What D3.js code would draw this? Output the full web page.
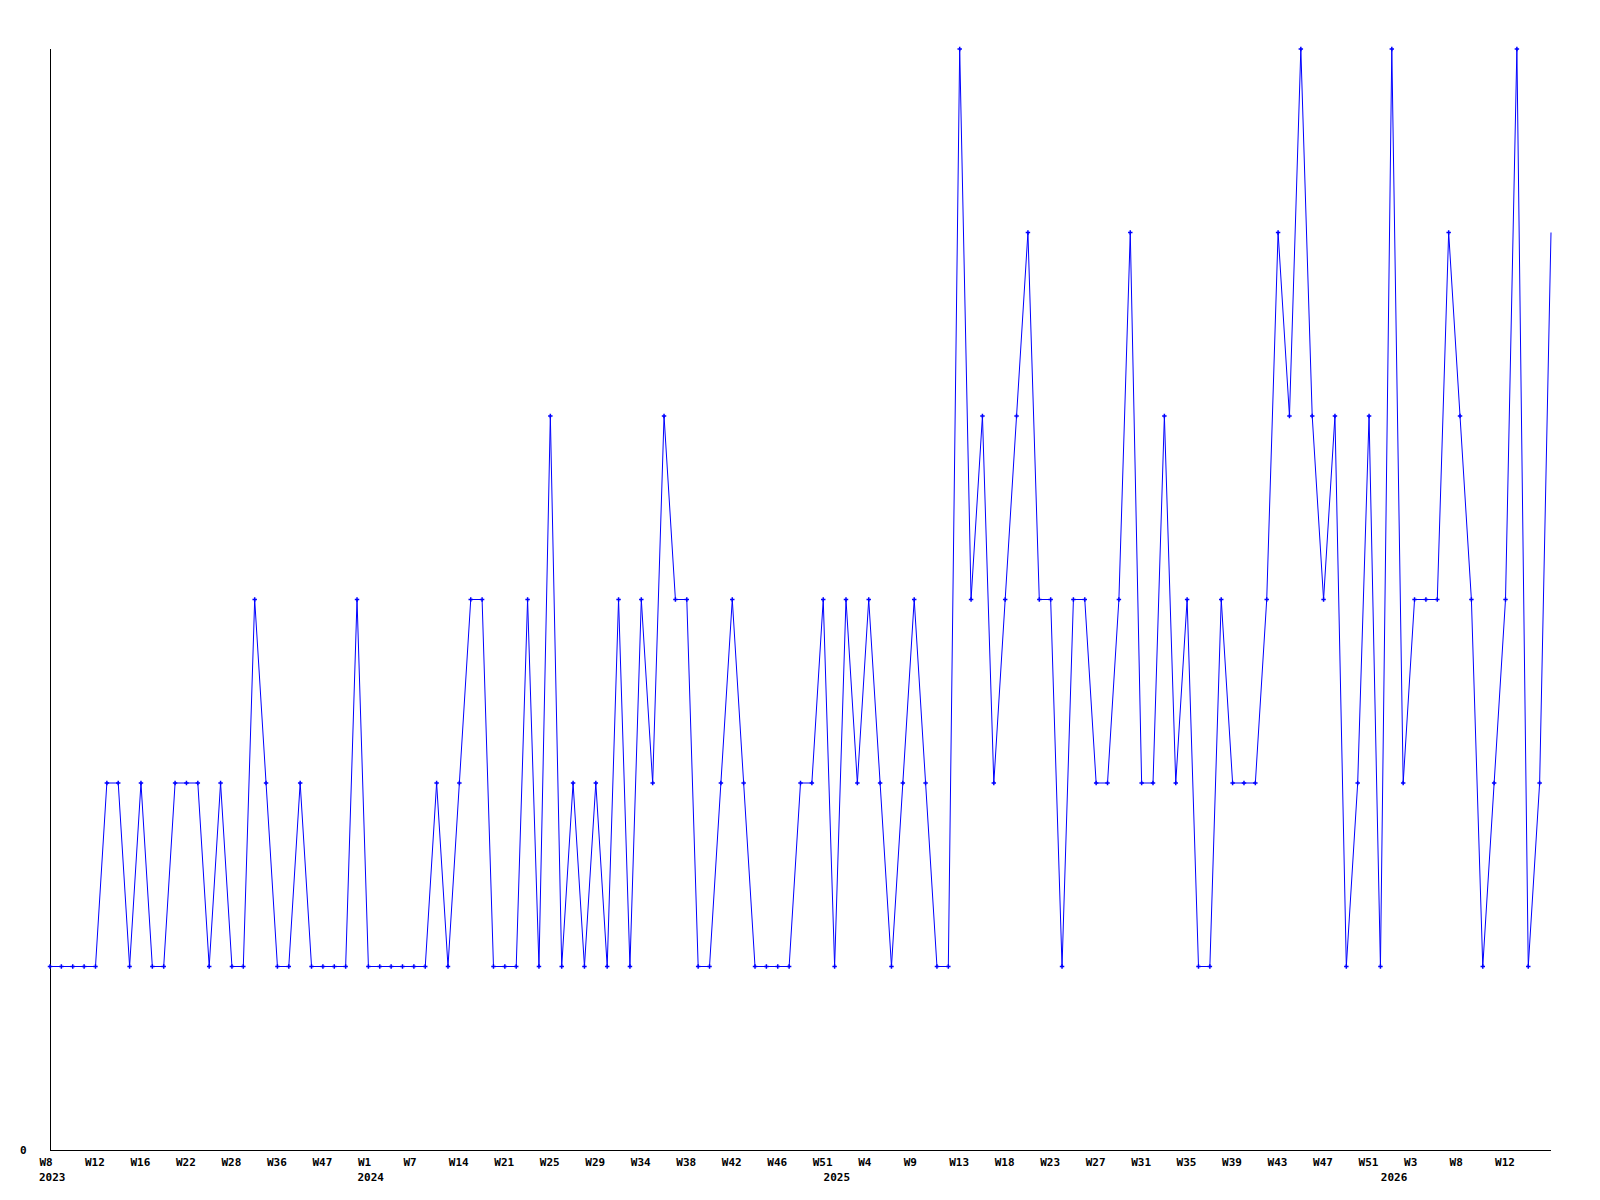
<!DOCTYPE html>
<html>
<head>
<meta charset="utf-8">
<script src="https://cdn.jsdelivr.net/npm/d3@7"></script>
<style>
  body { margin: 0; background: #fff; }
  svg text { font-family: "DejaVu Sans Mono", monospace; font-weight: bold; font-size: 11px; fill: #000; }
</style>
</head>
<body>
<div id="vis"></div>
<script>
// weekly counts, one per week that has data
var values = [
  1, 1, 1, 1, 1, 2, 2, 1, 2, 1, 1, 2, 2, 2, 1, 2, 1, 1, 3, 2,
  1, 1, 2, 1, 1, 1, 1, 3, 1, 1, 1, 1, 1, 1, 2, 1, 2, 3, 3, 1,
  1, 1, 3, 1, 4, 1, 2, 1, 2, 1, 3, 1, 3, 2, 4, 3, 3, 1, 1, 2,
  3, 2, 1, 1, 1, 1, 2, 2, 3, 1, 3, 2, 3, 2, 1, 2, 3, 2, 1, 1,
  6, 3, 4, 2, 3, 4, 5, 3, 3, 1, 3, 3, 2, 2, 3, 5, 2, 2, 4, 2,
  3, 1, 1, 3, 2, 2, 2, 3, 5, 4, 6, 4, 3, 4, 1, 2, 4, 1, 6, 2,
  3, 3, 3, 5, 4, 3, 1, 2, 3, 6, 1, 2, 5
];

// one label every 4th point
var weekLabels = [
  "W8", "W12", "W16", "W22", "W28", "W36", "W47", "W1", "W7", "W14", "W21",
  "W25", "W29", "W34", "W38", "W42", "W46", "W51", "W4", "W9", "W13", "W18",
  "W23", "W27", "W31", "W35", "W39", "W43", "W47", "W51", "W3", "W8", "W12"
];
var yearLabels = ["2023", "2024", "2025", "2026"];
var yearLabelPos = [0, 28, 69, 118]; // point index of first week in that year

var labelStep = 4;
var yMax = 6;

var width = 1600;
var height = 1200;
var margin = { left: 50, right: 49, top: 49, bottom: 50 };

var svg = d3.select('#vis')
  .append('svg')
  .attr('width', width)
  .attr('height', height);

var x = d3.scaleLinear()
  .domain([0, values.length - 1])
  .range([margin.left, width - margin.right]);

var y = d3.scaleLinear()
  .domain([0, yMax])
  .range([height - margin.bottom, margin.top]);

// axes
svg.append('line')
  .attr('x1', x(0)).attr('x2', x(0))
  .attr('y1', y(yMax)).attr('y2', y(0))
  .attr('stroke', '#000')
  .attr('shape-rendering', 'crispEdges');

svg.append('line')
  .attr('x1', x(0)).attr('x2', x(values.length - 1))
  .attr('y1', y(0)).attr('y2', y(0))
  .attr('stroke', '#000')
  .attr('shape-rendering', 'crispEdges');

svg.append('text')
  .attr('x', x(0) - 30)
  .attr('y', y(0))
  .attr('dy', '0.35em')
  .text('0');

var xAxis = d3.axisBottom(x)
  .tickValues(weekLabels.map(function (d, i) { return i * labelStep; }))
  .tickFormat(function (d) { return weekLabels[d / labelStep]; })
  .tickSize(0)
  .tickPadding(0);

var gx = svg.append('g')
  .attr('transform', 'translate(0,' + y(0) + ')')
  .call(xAxis);
gx.select('.domain').remove();
gx.selectAll('text')
  .attr('font-family', null)
  .attr('font-size', null)
  .attr('fill', null)
  .attr('text-anchor', 'start')
  .attr('x', -11)
  .attr('y', 12)
  .attr('dy', '0.35em');

svg.selectAll('.year')
  .data(yearLabels)
  .enter().append('text')
  .attr('class', 'year')
  .attr('x', function (d, i) { return x(yearLabelPos[i]) - 11; })
  .attr('y', y(0) + 27)
  .attr('dy', '0.35em')
  .text(function (d) { return d; });

// series
var line = d3.line()
  .x(function (d, i) { return x(i); })
  .y(function (d) { return y(d); });

svg.append('path')
  .datum(values)
  .attr('d', line)
  .attr('fill', 'none')
  .attr('stroke', '#0000ff')
  .attr('stroke-width', 1);

var marker = d3.symbol().type(d3.symbolCross).size(11);

svg.selectAll('.dot')
  .data(values.slice(0, values.length - 1))
  .enter().append('path')
  .attr('class', 'dot')
  .attr('d', marker)
  .attr('transform', function (d, i) { return 'translate(' + x(i) + ',' + y(d) + ')'; })
  .attr('fill', '#0000ff');
</script>
</body>
</html>
